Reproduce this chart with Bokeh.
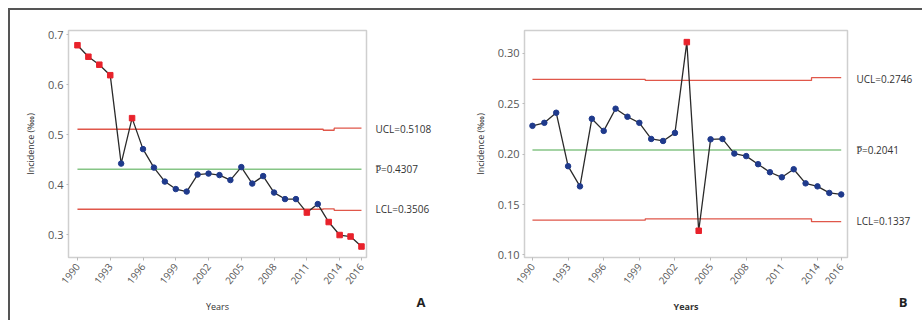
import math
from bokeh.plotting import figure
from bokeh.layouts import row
from bokeh.models import Range1d, FixedTicker, LinearAxis, ColumnDataSource, Title, NumeralTickFormatter
from bokeh.embed import file_html
from bokeh.resources import INLINE

years = list(range(1990, 2017))
year_ticks = [1990, 1993, 1996, 1999, 2002, 2005, 2008, 2011, 2014, 2016]

rate_a = [0.679, 0.656, 0.640, 0.619, 0.442, 0.533, 0.471, 0.434, 0.406, 0.391,
          0.386, 0.420, 0.422, 0.419, 0.409, 0.435, 0.402, 0.417, 0.384, 0.371,
          0.371, 0.344, 0.361, 0.325, 0.299, 0.296, 0.276]
ucl_a = [0.5108] * 23 + [0.5088] + [0.5130] * 3
lcl_a = [0.3506] * 23 + [0.3515] + [0.3484] * 3
center_a = 0.4307
labels_a = {"UCL": 0.5108, "P": 0.4307, "LCL": 0.3506}
yticks_a = [0.3, 0.4, 0.5, 0.6, 0.7]

rate_b = [0.228, 0.231, 0.241, 0.188, 0.168, 0.235, 0.223, 0.245, 0.237, 0.231,
          0.215, 0.213, 0.221, 0.311, 0.124, 0.2146, 0.215, 0.2005, 0.198, 0.190,
          0.182, 0.177, 0.185, 0.171, 0.168, 0.1615, 0.160]
ucl_b = [0.2740] * 10 + [0.2730] * 14 + [0.2757] * 3
lcl_b = [0.1345] * 10 + [0.1358] * 14 + [0.1330] * 3
center_b = 0.2041
labels_b = {"UCL": 0.2746, "P": 0.2041, "LCL": 0.1337}
yticks_b = [0.10, 0.15, 0.20, 0.25, 0.30]

FONT = "Open Sans"
TICK_COL = "#555555"
LIMIT_COL = "#e0574a"
CENTER_COL = "#86c586"
BLUE = "#1f3a8c"
RED = "#e8222b"


def make_panel(rate, ucl, lcl, center, labels, yticks, yrange, xrange, borders,
               fmt, years_bold, letter, letter_offset):
    bl, br, bt, bb = borders
    p = figure(width=456, height=310, output_backend="svg", toolbar_location=None,
               x_range=Range1d(*xrange), y_range=Range1d(*yrange),
               min_border_left=bl, min_border_right=br, min_border_top=bt,
               min_border_bottom=bb)
    p.xgrid.visible = False
    p.ygrid.visible = False
    p.outline_line_color = "#cfcfcf"
    p.outline_line_width = 1.5
    p.background_fill_color = "white"
    p.border_fill_color = "white"

    # control limits
    p.step(years, ucl, mode="center", line_color=LIMIT_COL, line_width=1.3)
    p.step(years, lcl, mode="center", line_color=LIMIT_COL, line_width=1.3)
    p.line([years[0], years[-1]], [center, center], line_color=CENTER_COL, line_width=1.5)

    # series
    p.line(years, rate, line_color="#2a2a2a", line_width=1.3)
    out = [(v > u or v < l) for v, u, l in zip(rate, ucl, lcl)]
    src_in = ColumnDataSource(dict(x=[y for y, o in zip(years, out) if not o],
                                   y=[v for v, o in zip(rate, out) if not o]))
    src_out = ColumnDataSource(dict(x=[y for y, o in zip(years, out) if o],
                                    y=[v for v, o in zip(rate, out) if o]))
    p.scatter("x", "y", source=src_in, marker="circle", size=5.5, fill_color=BLUE,
              line_color=BLUE)
    p.scatter("x", "y", source=src_out, marker="square", size=5.5, fill_color=RED,
              line_color=RED)

    # axes
    xa = p.xaxis[0]
    xa.ticker = FixedTicker(ticks=year_ticks)
    xa.major_label_orientation = 0.9
    xa.major_label_text_font = FONT
    xa.major_label_text_font_size = "10px"
    xa.major_label_text_color = TICK_COL
    xa.axis_line_color = None
    xa.major_tick_line_color = "#bbbbbb"
    xa.major_tick_out = 3
    xa.major_tick_in = 0
    xa.minor_tick_line_color = None
    # blank spacer label: reserves a little room under the tick labels
    xa.axis_label = "\u00a0"
    xa.axis_label_text_font = FONT
    xa.axis_label_text_font_size = "5px"
    xa.axis_label_standoff = 0
    xa.major_label_standoff = 4

    ya = p.yaxis[0]
    ya.ticker = FixedTicker(ticks=yticks)
    ya.formatter = NumeralTickFormatter(format=fmt)
    ya.major_label_text_font = FONT
    ya.major_label_text_font_size = "11px"
    ya.major_label_text_color = TICK_COL
    ya.axis_line_color = None
    ya.major_tick_line_color = "#bbbbbb"
    ya.major_tick_out = 2
    ya.major_tick_in = 0
    ya.minor_tick_line_color = None
    ya.major_label_standoff = 3
    ya.axis_label = "Incidence (\u2031)"
    ya.axis_label_text_font = FONT
    ya.axis_label_text_font_size = "9px"
    ya.axis_label_text_font_style = "normal"
    ya.axis_label_text_color = "#333333"
    ya.axis_label_standoff = 8

    # right-hand limit labels
    ticks = [labels["UCL"], labels["P"], labels["LCL"]]
    ra = LinearAxis(ticker=FixedTicker(ticks=ticks))
    ra.major_label_overrides = {
        labels["UCL"]: "UCL=%.4f" % labels["UCL"],
        labels["P"]: "P\u0305=%.4f" % labels["P"],
        labels["LCL"]: "LCL=%.4f" % labels["LCL"],
    }
    ra.axis_line_color = None
    ra.major_tick_line_color = None
    ra.minor_tick_line_color = None
    ra.major_label_standoff = 3
    ra.major_label_text_font = FONT
    ra.major_label_text_font_size = "10px"
    ra.major_label_text_color = "#333333"
    p.add_layout(ra, "right")

    # panel letter and "Years", sharing one line under the axis
    t = Title(text=letter, align="right", offset=letter_offset, vertical_align="middle",
              standoff=-15, text_font=FONT, text_font_size="13px",
              text_font_style="bold", text_color="#222222")
    p.add_layout(t, "below")
    ty = Title(text="Years", align="center", vertical_align="middle", standoff=-11,
               text_font=FONT, text_font_size="9px",
               text_font_style="bold" if years_bold else "normal",
               text_color="#333333")
    p.add_layout(ty, "below")
    return p


pA = make_panel(rate_a, ucl_a, lcl_a, center_a, labels_a, yticks_a,
                (0.254, 0.7085), (1989.18, 2016.46), (58, 100, 18, 63),
                "0.0", False, "A", -59)
pB = make_panel(rate_b, ucl_b, lcl_b, center_b, labels_b, yticks_b,
                (0.0975, 0.3225), (1989.33, 2016.53), (58, 75, 20, 62),
                "0.00", True, "B", -60)

layout = row(pA, pB, styles={"margin-left": "8px", "margin-top": "8px",
                             "border-top": "2px solid #555555",
                             "border-left": "2px solid #555555"})

open("out.html", "w").write(file_html(layout, INLINE))
